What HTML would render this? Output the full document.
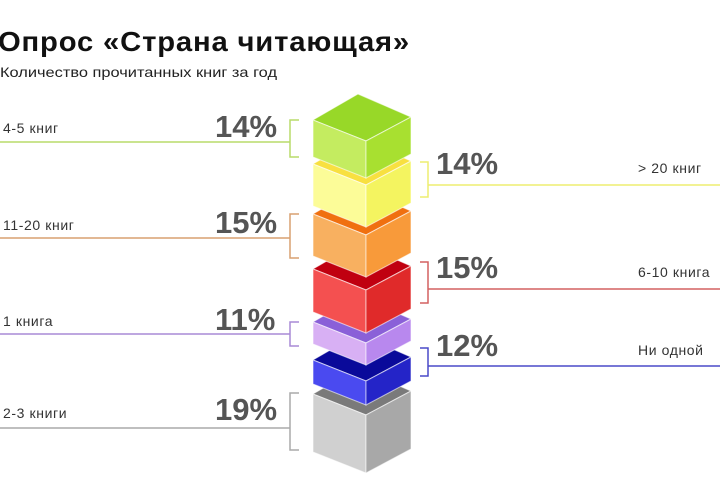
<!DOCTYPE html>
<html><head><meta charset="utf-8"><style>
html,body{margin:0;padding:0;background:#fff;width:720px;height:480px;overflow:hidden}
svg{display:block}
text{font-family:"Liberation Sans","DejaVu Sans",sans-serif}
.p{font-size:31px;font-weight:bold;fill:#555}
.l{font-size:14px;fill:#333;letter-spacing:0.6px}
</style></head><body>
<svg width="720" height="480" viewBox="0 0 720 480">
<text x="-2" y="51" font-size="28" font-weight="bold" fill="#111" letter-spacing="0.8" textLength="412" lengthAdjust="spacingAndGlyphs">Опрос «Страна читающая»</text>
<text x="0" y="77" font-size="14" fill="#222" textLength="277" lengthAdjust="spacingAndGlyphs">Количество прочитанных книг за год</text>

<g fill="none" stroke-width="1.5">
<polyline stroke="#b8dc6a" points="0,142 290,142"/><polyline stroke="#b8dc6a" points="299,120 290,120 290,157 299,157"/>
<polyline stroke="#d9a070" points="0,238 290,238"/><polyline stroke="#d9a070" points="299,214 290,214 290,258 299,258"/>
<polyline stroke="#a88ad6" points="0,334 290,334"/><polyline stroke="#a88ad6" points="299,322 290,322 290,346 299,346"/>
<polyline stroke="#aaa" points="0,428 290,428"/><polyline stroke="#aaa" points="299,393 290,393 290,450 299,450"/>
<polyline stroke="#eeee70" points="428,185 720,185"/><polyline stroke="#eeee70" points="420,162 428,162 428,197 420,197"/>
<polyline stroke="#d46060" points="428,289 720,289"/><polyline stroke="#d46060" points="420,262 428,262 428,303 420,303"/>
<polyline stroke="#4a4ac8" points="428,366 720,366"/><polyline stroke="#4a4ac8" points="420,348 428,348 428,376 420,376"/>
</g>
<text class="l" x="3" y="133">4-5 книг</text>
<text class="l" x="3" y="230">11-20 книг</text>
<text class="l" x="3" y="326">1 книга</text>
<text class="l" x="3" y="418">2-3 книги</text>
<text class="l" x="638" y="173">&gt; 20 книг</text>
<text class="l" x="638" y="277">6-10 книга</text>
<text class="l" x="638" y="355">Ни одной</text>
<text class="p" x="215" y="137">14%</text>
<text class="p" x="215" y="233">15%</text>
<text class="p" x="215" y="330">11%</text>
<text class="p" x="215" y="420">19%</text>
<text class="p" x="436" y="174">14%</text>
<text class="p" x="436" y="278">15%</text>
<text class="p" x="436" y="356">12%</text>

<g stroke="#fff" stroke-width="1" stroke-opacity="0.6">
<polygon fill="#7a7a7a" points="313,394 358,368 411,391 366,415"/>
<polygon fill="#d0d0d0" points="313,394 366,415 366,473 313,452"/>
<polygon fill="#a8a8a8" points="366,415 411,391 411,449 366,473"/>
<polygon fill="#0a0a9a" points="313,360 358,334 411,357 366,381"/>
<polygon fill="#4a4af0" points="313,360 366,381 366,405 313,384"/>
<polygon fill="#2424c8" points="366,381 411,357 411,381 366,405"/>
<polygon fill="#8a60d8" points="313,322 358,296 411,319 366,343"/>
<polygon fill="#d8b0f4" points="313,322 366,343 366,365 313,344"/>
<polygon fill="#b888ee" points="366,343 411,319 411,341 366,365"/>
<polygon fill="#c00010" points="313,269 358,243 411,266 366,290"/>
<polygon fill="#f45050" points="313,269 366,290 366,333 313,312"/>
<polygon fill="#e02a2a" points="366,290 411,266 411,309 366,333"/>
<polygon fill="#f07010" points="313,214 358,188 411,211 366,235"/>
<polygon fill="#f8b060" points="313,214 366,235 366,277 313,256"/>
<polygon fill="#f89a3a" points="366,235 411,211 411,253 366,277"/>
<polygon fill="#f8e040" points="313,164 358,138 411,161 366,185"/>
<polygon fill="#fcfc98" points="313,164 366,185 366,227 313,206"/>
<polygon fill="#f4f460" points="366,185 411,161 411,203 366,227"/>
<polygon fill="#98d828" points="313,120 358,94 411,117 366,141"/>
<polygon fill="#c4ec60" points="313,120 366,141 366,178 313,157"/>
<polygon fill="#a8e030" points="366,141 411,117 411,154 366,178"/>
</g>
</svg>
</body></html>
